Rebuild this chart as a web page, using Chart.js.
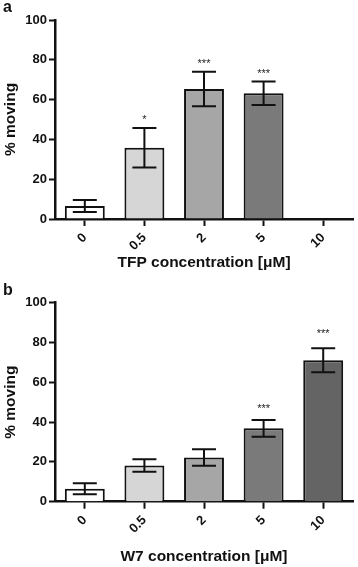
<!DOCTYPE html>
<html><head><meta charset="utf-8">
<script src="https://cdn.jsdelivr.net/npm/chart.js@4"></script>
<style>
html,body{margin:0;padding:0;background:#fff;}
body{width:358px;height:567px;position:relative;overflow:hidden;font-family:"Liberation Sans",Arial,sans-serif;}
canvas{position:absolute;left:0;}
.lbl{position:absolute;font-weight:bold;font-size:16px;line-height:16px;color:#111;}
</style></head><body>
<canvas id="ca" width="358" height="283" style="top:0;width:358px;height:283px"></canvas>
<canvas id="cb" width="358" height="284" style="top:283px;width:358px;height:284px"></canvas>
<div class="lbl" style="left:3px;top:-1px">a</div>
<div class="lbl" style="left:3px;top:282px">b</div>
<script>
const categories = ['0', '0.5', '2', '5', '10'];
const yTicks = [0, 20, 40, 60, 80, 100];

const tfpMeans = [6.5, 35.8, 65.3, 63.2, null];
const tfpErrors = [3.0, 9.9, 8.7, 5.9, null];
const tfpStars = ['', '*', '***', '***', ''];
const tfpStarLevels = [null, 51.3, 79.4, 74.4, null];

const w7Means = [6.5, 18.2, 22.2, 36.9, 71.1];
const w7Errors = [2.8, 3.1, 4.1, 4.2, 6.0];
const w7Stars = ['', '', '', '***', '***'];
const w7StarLevels = [null, null, null, 48, 86];

const barColors = ['#ffffff', '#d6d6d6', '#a6a6a6', '#7a7a7a', '#646464'];
const FONT = '"Liberation Sans", Arial, sans-serif';

const errPlugin = {
  id: 'err',
  afterDatasetsDraw(chart, args, opts) {
    const ctx = chart.ctx, y = chart.scales.y;
    const meta = chart.getDatasetMeta(0);
    ctx.save();
    ctx.strokeStyle = '#111';
    ctx.lineWidth = 2;
    opts.means.forEach((m, i) => {
      if (m == null) return;
      const e = opts.errors[i];
      const x = meta.data[i].x;
      const yt = y.getPixelForValue(m + e), yb = y.getPixelForValue(m - e);
      const half = 12;
      ctx.beginPath();
      ctx.moveTo(x, yt); ctx.lineTo(x, yb);
      ctx.moveTo(x - half, yt); ctx.lineTo(x + half, yt);
      ctx.moveTo(x - half, yb); ctx.lineTo(x + half, yb);
      ctx.stroke();
    });
    ctx.fillStyle = '#222';
    ctx.font = '11px ' + FONT;
    ctx.textAlign = 'center';
    ctx.textBaseline = 'alphabetic';
    opts.stars.forEach((s, i) => {
      if (!s) return;
      ctx.fillText(s, meta.data[i].x, y.getPixelForValue(opts.starLevels[i]) + 6);
    });
    ctx.restore();
  }
};

function makeChart(id, title, means, errors, stars, starLevels, pad, xHeight) {
  return new Chart(document.getElementById(id), {
    type: 'bar',
    data: {
      labels: categories,
      datasets: [{
        data: means,
        backgroundColor: barColors,
        borderColor: '#111',
        borderWidth: 2,
        barPercentage: 0.67,
        categoryPercentage: 1
      }]
    },
    options: {
      responsive: false,
      animation: false,
      events: [],
      layout: { padding: pad },
      plugins: {
        legend: { display: false },
        tooltip: { enabled: false },
        err: { means, errors, stars, starLevels }
      },
      scales: {
        x: {
          grid: { display: true, offset: false, drawOnChartArea: false, drawTicks: true, tickLength: 7, tickWidth: 2, tickColor: '#111' },
          border: { display: true, color: '#111', width: 2.5 },
          ticks: { minRotation: 45, maxRotation: 45, color: '#111', padding: 4, font: { family: FONT, size: 13, weight: 'bold' } },
          title: { display: true, text: title, color: '#111', padding: { top: 0, bottom: 0 }, font: { family: FONT, size: 15.5, weight: 'bold' } },
          afterFit(s) { s.height = xHeight; }
        },
        y: {
          min: 0, max: 100,
          grid: { display: true, drawOnChartArea: false, drawTicks: true, tickLength: 6, tickWidth: 2, tickColor: '#111' },
          border: { display: true, color: '#111', width: 2.5 },
          ticks: { color: '#111', padding: 2, font: { family: FONT, size: 13, weight: 'bold' } },
          afterBuildTicks(s) { s.ticks = yTicks.map(v => ({ value: v })); },
          title: { display: true, text: '% moving', color: '#111', padding: { top: 1, bottom: 0 }, font: { family: FONT, size: 15.5, weight: 'bold' } },
          afterFit(s) { s.width = 55; }
        }
      }
    },
    plugins: [errPlugin]
  });
}

makeChart('ca', 'TFP concentration [\u03BCM]', tfpMeans, tfpErrors, tfpStars, tfpStarLevels,
  { left: 0, right: 5, top: 20, bottom: 11.2 }, 52.8);
makeChart('cb', 'W7 concentration [\u03BCM]', w7Means, w7Errors, w7Stars, w7StarLevels,
  { left: 0, right: 5, top: 19.7, bottom: 1.2 }, 64.1);
</script>
</body></html>
